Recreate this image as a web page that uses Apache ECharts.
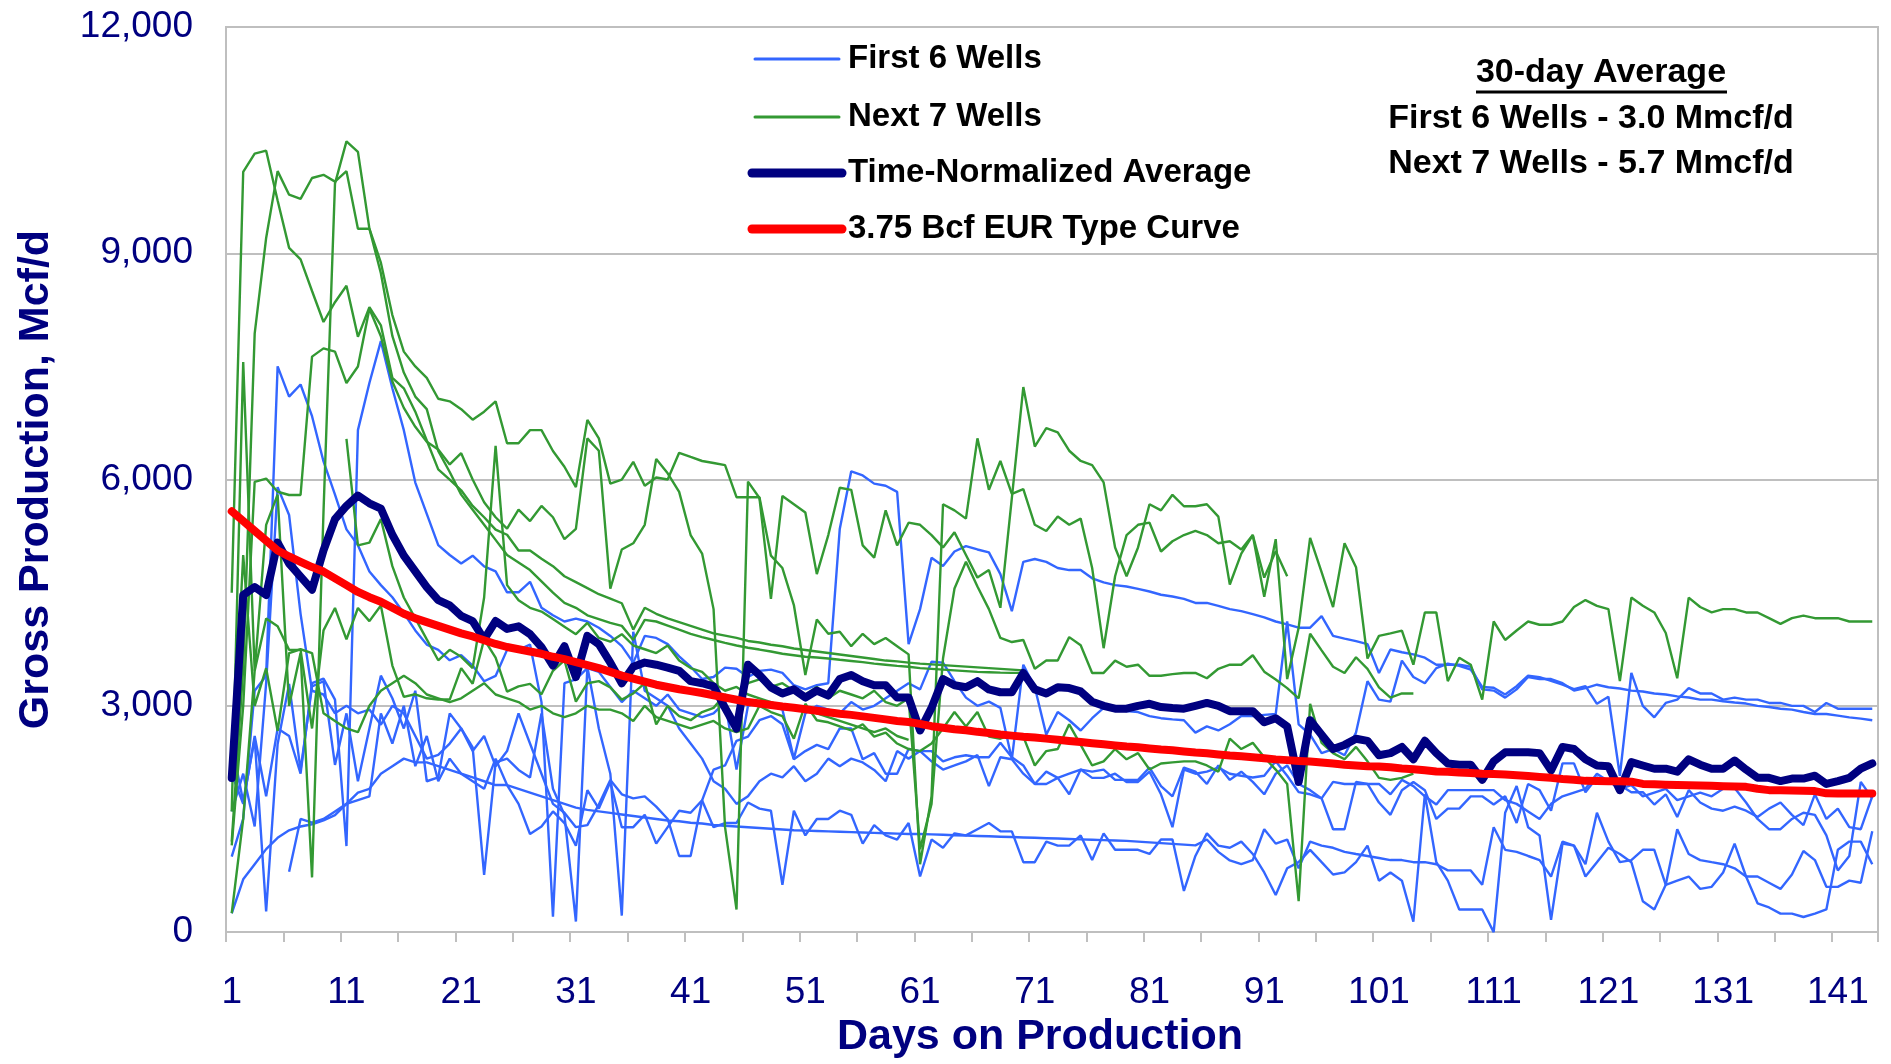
<!DOCTYPE html>
<html><head><meta charset="utf-8">
<script src="https://cdn.jsdelivr.net/npm/echarts@6/dist/echarts.min.js"></script>
<style>html,body{margin:0;padding:0;background:#fff}#c{width:1891px;height:1064px}</style>
</head><body><div id="c"></div>
<script>
// ---------- DATA ----------
const days = Array.from({length:144},(_,i)=>String(i+1));
const yTicks = [0,3000,6000,9000,12000];

// First 6 wells (blue)
const blue1 = [1000,1500,3200,3400,7500,7100,7260,6840,6240,5800,
5340,5130,4780,4600,4440,4228,4000,3812,3742,3604,
3673,3534,3326,3396,3742,3742,3812,3049,205,3300,
3350,3500,3450,3250,3050,3200,3100,3000,3150,2950,
2900,2850,2900,3050,2155,3000,3050,3000,2950,2300,
2900,3000,2950,2900,3050,2950,3000,3100,3200,3300,
3218,3584,3573,3327,3109,3000,3055,2973,2291,3545,
3246,2618,2918,2809,2673,2836,2973,2946,2930,2918,
2864,2836,2820,2809,2645,2727,2673,2755,2864,2864,
2880,2891,4118,2755,2618,2373,2427,2345,2645,3327,
3082,3055,3600,3382,3300,3500,3560,3530,3480,3250,
3240,3150,3260,3400,3380,3330,3280,3220,3260,3027,
3120,2073,3437,3000,2847,3038,3082,3235,3164,3164,
3082,3109,3082,3082,3038,3038,3000,3000,2918,3038,
2962,2962,2962,2962];
const blue2 = [2100,1700,2600,1800,2700,2600,2100,3300,3361,3083,
1141,6655,7280,7835,7210,6655,5960,5546,5130,5000,
4887,4991,4850,4783,4505,4505,4644,4300,4200,4118,
4157,4118,4036,3927,3791,3573,3927,3900,3818,3655,
3518,3355,3382,3507,3491,3382,3464,3480,3436,3273,
3218,3273,3300,5345,6109,6055,5946,5918,5836,3818,
4282,4964,4855,5046,5117,5073,5035,4746,4255,4909,
4947,4909,4827,4800,4800,4691,4636,4600,4582,4550,
4516,4473,4450,4418,4364,4364,4326,4282,4255,4216,
4173,4118,4080,4036,4036,4189,3927,3890,3857,3818,
3436,3747,3710,3682,3638,3545,3545,3545,3518,3218,
3202,3109,3218,3382,3355,3355,3300,3202,3235,3280,
3246,3230,3202,3190,3164,3150,3126,3110,3082,3082,
3060,3044,3030,3000,2985,2962,2950,2918,2891,2891,
2870,2847,2830,2809];
const blue3 = [1600,2100,1400,3300,5900,5530,4220,3200,3150,2900,
3000,2900,2950,2750,3000,2900,2600,2300,2350,2500,
2700,2450,760,2250,2300,2150,2050,2900,1900,1555,
140,3518,2700,2100,218,3982,3200,3100,3000,2700,
2500,2300,2000,1900,1700,1800,2000,2100,2050,2200,
2000,2100,2300,2200,2300,2250,2150,2000,2400,2300,
2400,2264,2155,2209,2264,2346,1936,2318,2291,2100,
1964,2127,2045,1827,2155,2127,2155,2018,2018,2018,
2182,1936,1800,2182,2127,1964,2209,2018,2127,1991,
1827,2100,2209,1964,1882,1773,1364,1364,1991,1964,
1718,1555,1882,1991,1882,1500,1637,1637,1800,1800,
1691,1800,1446,1964,1882,1609,2237,2237,1855,2050,
2000,1950,1855,1855,1691,1827,1527,1882,1718,1637,
1609,1664,1609,1527,1637,1718,1555,1418,1827,1500,
1637,1391,1364,1800];
const blue4 = [250,700,900,1100,1250,1350,1400,1430,1480,1550,
1700,1850,1900,2100,2200,2300,2250,2250,2200,2150,
2100,2050,2000,1950,1950,1900,1850,1800,1750,1700,
1650,1620,1600,1580,1560,1540,1520,1500,1480,1470,
1450,1440,1420,1410,1400,1390,1380,1370,1360,1350,
1345,1340,1335,1330,1325,1320,1315,1310,1305,1300,
1300,1295,1290,1285,1280,1275,1270,1265,1260,1255,
1250,1245,1240,1235,1230,1225,1220,1215,1210,1200,
1190,1180,1170,1160,1150,1227,1064,950,900,955,
1364,1173,1227,846,1200,1146,1118,1064,1036,1009,
982,955,955,927,927,900,818,818,818,627,
1391,1091,1064,1009,955,737,1200,1146,737,927,
1118,1036,927,409,300,627,1364,1036,955,927,
900,846,737,737,655,573,764,1075,955,600,
600,682,655,1336];
const blue5 = [2494,1731,2563,274,2494,3291,2147,3257,3326,2216,
2900,2000,2700,3400,3100,2700,3200,2000,2050,2900,
2700,2400,2600,2200,2400,2900,2500,2100,1700,1582,
1391,1418,1691,2018,1827,1773,1800,1664,1500,1009,
1009,1746,2155,2209,2536,2591,2809,2864,2755,2291,
2400,2482,2427,2700,2700,2291,2373,2100,2100,2427,
2400,2400,2264,2318,2345,2318,2318,2509,2318,2209,
1964,1964,2045,2100,2155,2045,2045,2100,1991,1991,
2127,1827,1391,2155,2100,2127,2182,2100,2073,2050,
2073,2264,2073,1855,1827,1773,1991,1964,1964,1964,
1964,1827,2018,1936,1800,1691,1882,1882,1882,1882,
1882,1750,1700,1600,1500,1700,1800,1850,1900,2100,
2000,1900,1950,1800,1850,1900,1750,1800,1850,1800,
1900,1909,1718,1500,1364,1364,1500,1582,1555,1282,
818,1009,1991,1773];
const blue6 = [null,null,null,null,null,800,1500,1450,1500,1600,
1700,1750,1800,2900,2500,3000,2200,2600,2000,2300,
2100,2000,1900,2300,1950,1700,1300,1400,1600,1446,
1146,1882,1637,1991,1391,1391,1555,1173,1391,1609,
1582,1746,1391,1446,1446,1718,1637,1609,627,1609,
1282,1500,1500,1609,1555,1173,1418,1282,1227,1446,
737,1227,1118,1309,1282,1364,1446,1336,1336,927,
927,1200,1146,1146,1282,955,1309,1091,1091,1091,
1036,1227,1227,545,1009,1309,1146,1118,1200,1036,
791,491,846,927,1091,927,764,791,927,1146,
682,791,682,137,1827,927,682,300,300,300,
0,1582,1937,1391,1282,164,1173,1146,900,1582,
1200,927,955,1091,1091,627,682,737,573,600,
791,1173,737,382,327,245,245,200,245,300,
1091,1200,1200,900];

// Next 7 wells (green)
const green1 = [4500,10080,10320,10360,9700,9072,8919,8500,8089,8351,
8570,7892,8285,8045,7349,7210,6900,6517,6135,6000,
5858,5650,5500,5337,5268,5060,5060,4950,4852,4718,
4640,4560,4480,4420,4360,4010,4300,4220,4160,4110,
4060,4010,3960,3930,3900,3860,3840,3810,3790,3760,
3740,3720,3700,3680,3660,3640,3620,3600,3590,3573,
3560,3550,3540,3530,3520,3510,3500,3490,3480,3470];
const green2 = [1200,3500,7935,9203,10089,9777,9721,9998,10040,9950,
10089,9326,9326,8875,8181,7696,7500,7349,7071,7037,
6933,6794,6900,7037,6482,6482,6655,6655,6378,6170,
5900,6791,6546,5946,6000,6235,5918,6027,6000,6355,
6300,6246,6220,6191,5766,5766,5766,4991,4827,4336,
3409,4146,3955,3982,3791,3955,3818,3900,3791,3682,
900,1800,5673,5591,5482,6546,5864,6246,5809,5873,
5400,5318,5509,5400,5482,4827,3764,4718,5264,5400,
5428,5046,5182,5264,5318,5264,5155,5182,5073,5264,
4700,5050,4718];
const green3 = [1600,7557,3465,5400,5800,3000,3700,725,5576,9924,
10484,10345,9326,8736,7904,7418,7100,6933,6378,6100,
5800,5600,5400,5200,5000,4900,4800,4650,4500,4364,
4300,4200,4150,4100,4060,3873,4140,4118,4064,4009,
3955,3910,3873,3835,3800,3770,3746,3720,3690,3670,
3650,3640,3627,3610,3595,3580,3560,3545,3530,3518,
3500,3490,3480,3470,3460,3450,3445,3440,3437,3437];
const green4 = [1150,3000,5970,6013,5838,5795,5795,7630,7739,7695,
7280,7499,8264,7900,7300,6950,6700,6500,6400,6200,
6350,6000,5700,5500,5350,5600,5450,5650,5500,5209,
5345,6546,6382,4555,5073,5155,5400,6273,6082,5836,
5264,5018,4282,1391,300,5973,5755,4418,5782,5673,
5564,4746,5264,5891,5864,5127,4964,5591,5127,5428,
5400,5264,5100,5300,5000,4700,4800,4300,5755,7227,
6437,6682,6627,6382,6246,6191,5962,5100,4718,5100,
5673,5591,5798,5646,5646,5673,5509,4609,5018,5264,
4446,5209,3355,4036,5226,4773,4309,5155,4838,3627,
3927,3960,3998,3545,4238,4238,3327,3638,3545,3082,
4118,3873,3998,4118,4075,4075,4118,4309,4402,4326,
4282,3327,4435,4326,4238,3966,3366,4435,4310,4238,
4282,4282,4238,4238,4162,4086,4162,4195,4162,4162,
4162,4118,4118,4118];
const green5 = [250,1500,3465,4158,4054,3742,3742,2700,4000,4297,
3881,4297,4123,4331,3534,3118,3153,3100,3083,3083,
3500,3292,3881,3638,3188,3257,3292,3153,3465,3604,
3055,3300,3327,3245,3082,3164,3300,2755,3000,2864,
2809,2918,2973,3150,3050,3300,3350,3250,3300,3200,
3150,3250,3100,3200,3150,3100,3200,3050,3000,3100,
1100,1700,3627,4555,4909,4582,4282,3900,3846,3873,
3491,3600,3600,3911,3802,3436,3436,3600,3518,3545,
3398,3398,3420,3436,3436,3366,3491,3545,3545,3671,
3453,3350,3235,3100,3955,3736,3518,3436,3644,3491,
3246,3109,3164,3164];
const green6 = [2000,5000,3000,3500,2667,3700,3750,3700,2900,2800,
2700,2650,3000,3200,3300,3400,3300,3150,3100,3050,
3100,3200,3300,3150,3100,3050,2950,3000,2900,2850,
2900,3000,2950,2950,2900,2800,3000,2850,2800,2750,
2700,2750,2800,2700,2650,2700,3000,2918,2864,2564,
3027,2809,2782,2727,2673,2755,2591,2645,2500,2427,
2400,2500,2700,2918,2727,2918,2591,2564,2618,2591,
2209,2400,2427,2755,2482,2209,2264,2427,2291,2373,
2155,2236,2250,2264,2264,2209,2127,2564,2427,2509,
2318,2155,1964,409,3027,2509,2373,2291,2455,2264,
2045,2018,2045,2100];
const green7 = [null,null,null,null,null,null,null,null,null,null,
6540,5128,5164,5476,4852,4436,4159,3881,3604,3743,
3650,3500,4436,6447,4600,4400,4300,4250,4150,4050,
3950,4100,3900,3850,3950,3800,3750,3700,3800,3600,
3500,3450,3300,3200,3250,3150,3100,3050,3000,2950,
3000,2900,2850,2800,2750,2700,2650,2700,2600,2550];

// Time-normalized average (navy)
const average = [2043,4470,4575,4470,5164,4887,4713,4540,5060,5476,
5650,5788,5685,5615,5268,4991,4783,4575,4401,4332,
4193,4124,3881,4124,4020,4054,3950,3777,3534,3791,
3382,3927,3818,3573,3300,3518,3573,3545,3507,3464,
3327,3300,3257,2973,2700,3545,3409,3245,3164,3218,
3109,3202,3136,3355,3409,3327,3273,3273,3109,3109,
2673,2973,3355,3273,3246,3327,3218,3180,3180,3436,
3218,3164,3246,3235,3191,3055,3000,2962,2962,3000,
3027,2984,2970,2962,3000,3038,3000,2929,2929,2929,
2782,2836,2727,1991,2809,2618,2427,2482,2564,2536,
2345,2373,2455,2291,2536,2373,2236,2220,2220,2018,
2264,2384,2384,2384,2373,2144,2455,2427,2291,2209,
2198,1882,2253,2209,2166,2166,2127,2291,2220,2166,
2166,2275,2155,2045,2045,2002,2035,2035,2073,1964,
2002,2045,2166,2236];

// 3.75 Bcf EUR type curve (red)
const typeCurve = [5580,5450,5320,5190,5060,4980,4910,4840,4780,4690,
4600,4510,4440,4380,4300,4220,4160,4110,4060,4010,
3960,3920,3870,3820,3780,3750,3720,3690,3650,3620,
3580,3540,3500,3450,3400,3360,3320,3280,3250,3220,
3195,3170,3140,3110,3080,3050,3030,3010,2990,2975,
2955,2935,2915,2895,2880,2860,2840,2820,2800,2785,
2760,2730,2710,2690,2675,2655,2640,2620,2605,2590,
2580,2565,2550,2535,2520,2505,2490,2475,2460,2450,
2435,2420,2410,2395,2380,2370,2355,2340,2330,2318,
2305,2290,2280,2270,2262,2250,2235,2220,2210,2200,
2195,2185,2170,2160,2145,2130,2125,2115,2110,2100,
2095,2090,2080,2070,2056,2045,2030,2020,2005,2002,
2000,2000,1995,1965,1960,1955,1950,1948,1945,1940,
1935,1930,1926,1900,1882,1880,1878,1875,1870,1840,
1838,1838,1838,1838];

const blueWells = [blue1,blue2,blue3,blue4,blue5,blue6];
const greenWells = [green1,green2,green3,green4,green5,green6,green7];

const legendNames = ['First 6 Wells','Next 7 Wells','Time-Normalized Average','3.75 Bcf EUR Type Curve'];
const noteTitle = '30-day Average';
const noteLines = ['First 6 Wells - 3.0 Mmcf/d','Next 7 Wells - 5.7 Mmcf/d'];

// ---------- CHART ----------
const FONT = '"Liberation Sans", Arial, sans-serif';
const BLUE = '#3366FF', GREEN = '#339933', NAVY = '#000080', RED = '#FF0000';
const chart = echarts.init(document.getElementById('c'), null, {renderer:'canvas'});

function well(data, color){
  return {type:'line', data:data, symbol:'none', showSymbol:false, silent:true,
    connectNulls:false, lineStyle:{color:color, width:2.4}, itemStyle:{color:color}};
}
const series = [];
blueWells.forEach(d=>series.push(Object.assign(well(d,BLUE),{name:legendNames[0]})));
greenWells.forEach(d=>series.push(Object.assign(well(d,GREEN),{name:legendNames[1]})));
series.push({type:'line', name:legendNames[2], data:average, symbol:'none', silent:true,
  lineStyle:{color:NAVY, width:8, cap:'round', join:'round'}, itemStyle:{color:NAVY}});
series.push({type:'line', name:legendNames[3], data:typeCurve, symbol:'none', silent:true,
  lineStyle:{color:RED, width:8, cap:'round', join:'round'}, itemStyle:{color:RED}});

const legY = [59,117,173,229];
const legCol = [BLUE,GREEN,NAVY,RED];
const legW = [3,3,9,9];
const graphics = [];
legendNames.forEach((n,i)=>{
  graphics.push({type:'line', z:100, shape:{x1:i<2?755:752, y1:legY[i], x2:i<2?839:842, y2:legY[i]},
    style:{stroke:legCol[i], lineWidth:legW[i], lineCap:'round'}});
  graphics.push({type:'text', z:100, style:{text:n, x:848, y:legY[i], fill:'#000',
    font:'bold 33px ' + FONT, textAlign:'left', textVerticalAlign:'middle'}});
});
graphics.push({type:'text', z:100, style:{text:noteTitle, x:1601, y:73, fill:'#000',
  font:'bold 34px ' + FONT, textAlign:'center', textVerticalAlign:'middle'}});
graphics.push({type:'line', z:100, shape:{x1:1476, y1:92, x2:1727, y2:92}, style:{stroke:'#000', lineWidth:3}});
noteLines.forEach((t,i)=>{
  graphics.push({type:'text', z:100, style:{text:t, x:1591, y:[119,164][i], fill:'#000',
    font:'bold 34px ' + FONT, textAlign:'center', textVerticalAlign:'middle'}});
});

chart.setOption({
  animation:false,
  backgroundColor:'#ffffff',
  grid:{left:226, top:27, right:13, bottom:116, show:true, borderColor:'#BFBFBF', borderWidth:2},
  xAxis:{type:'category', data:days, boundaryGap:true,
    axisLine:{lineStyle:{color:'#BFBFBF', width:2}},
    axisTick:{show:true, interval:4, length:10, lineStyle:{color:'#BFBFBF', width:2}},
    axisLabel:{interval:9, color:NAVY, fontSize:37, fontFamily:FONT, margin:42},
    splitLine:{show:false},
    name:'Days on Production', nameLocation:'middle', nameGap:72,
    nameTextStyle:{color:NAVY, fontSize:43, fontWeight:'bold', fontFamily:FONT, padding:[0,24,0,0]}},
  yAxis:{type:'value', min:yTicks[0], max:yTicks[yTicks.length-1], interval:yTicks[1]-yTicks[0],
    axisLine:{show:true, lineStyle:{color:'#BFBFBF', width:2}}, axisTick:{show:false},
    axisLabel:{color:NAVY, fontSize:37, fontFamily:FONT, margin:33,
      formatter:v=>v.toLocaleString('en-US')},
    splitLine:{lineStyle:{color:'#BFBFBF', width:2}},
    name:'Gross Production, Mcf/d', nameLocation:'middle', nameGap:168,
    nameTextStyle:{color:NAVY, fontSize:43, fontWeight:'bold', fontFamily:FONT}},
  series:series,
  graphic:graphics
});
</script></body></html>
